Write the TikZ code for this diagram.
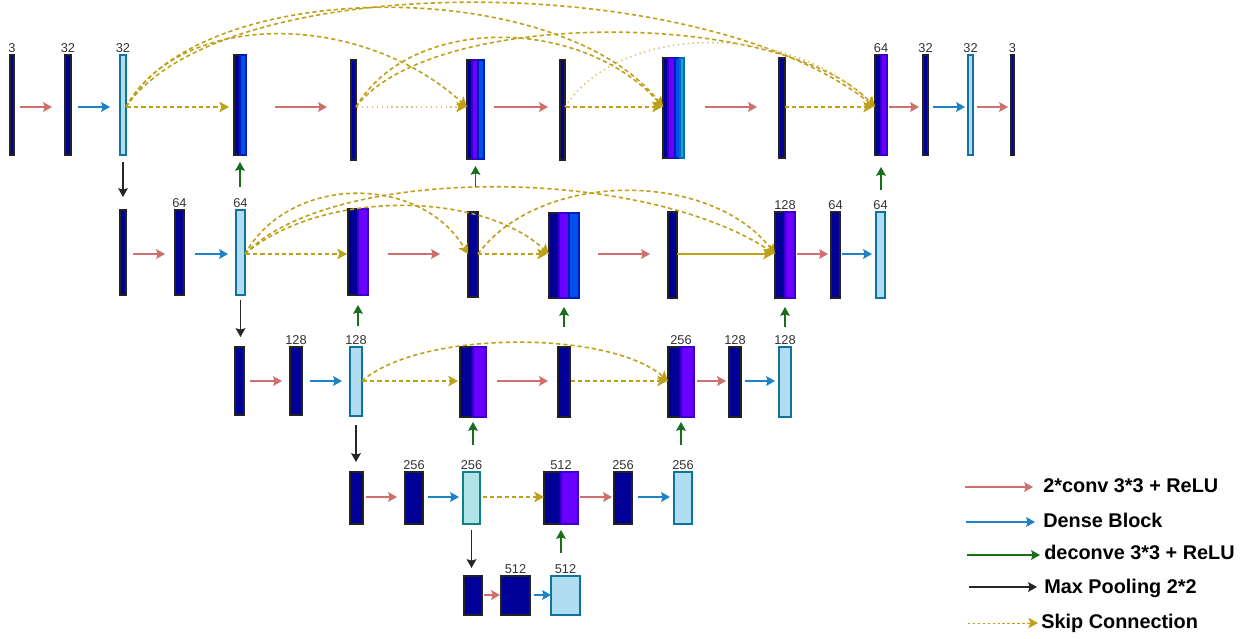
\documentclass[tikz,border=0pt]{standalone}
\usepackage{fontspec}
\setmainfont{Liberation Sans}
\usetikzlibrary{arrows.meta,calc}

\definecolor{navyfill}{HTML}{000099}
\definecolor{navyline}{HTML}{222222}
\definecolor{violetfill}{HTML}{6A00FF}
\definecolor{violetline}{HTML}{3700CC}
\definecolor{bluefill}{HTML}{0050EF}
\definecolor{blueline}{HTML}{001DBC}
\definecolor{cyanfill}{HTML}{1BA1E2}
\definecolor{cyanline}{HTML}{006EAF}
\definecolor{skyfill}{HTML}{B1DDF0}
\definecolor{skyline}{HTML}{10739E}
\definecolor{tealfill}{HTML}{B0E3E6}
\definecolor{tealline}{HTML}{0E8088}
\definecolor{convred}{RGB}{205,112,110}
\definecolor{denseblue}{RGB}{30,130,200}
\definecolor{deconvgreen}{RGB}{25,110,25}
\definecolor{skipol}{RGB}{190,160,25}
\definecolor{skippale}{RGB}{215,195,120}
\definecolor{numgray}{HTML}{333333}

% blocks: #1 name, #2 style, #3 x1, #4 y1, #5 x2, #6 y2
\newcommand\blockat[6]{\node[#2, rectangle, inner sep=0pt, outer sep=0pt, anchor=north west,
  minimum width={(#5-#3)*0.02cm}, minimum height={(#6-#4)*0.02cm}] (#1) at (#3,#4) {};}
% one coloured stripe of a concatenated block
\newcommand\stripe[5]{\draw[#1] (#2,#3) rectangle (#4,#5);}
% channel count above a block
\newcommand\numlabel[2]{\node[numtxt] (#1l) at ([yshift=1.1pt]#1.north) {#2};}
% horizontal connector: style, from, to, row, start gap, end gap
\newcommand\harrow[6]{\draw[#1] ($(#2.east |- #4)+(#5,0)$) -- ($(#3.west |- #4)+(-#6,0)$);}
% max pooling: from, to, start gap, end gap
\newcommand\darrow[4]{\draw[pool] ($(#1.south)+(0,#3)$) -- ($(#1.south |- #2.north)+(0,-#4)$);}
% deconvolution: from, to, start gap, end gap
\newcommand\uarrow[4]{\draw[deconv] ($(#2.south |- #1.north)+(0,-#3)$) -- ($(#2.south)+(0,#4)$);}

\begin{document}
\begin{tikzpicture}[x=0.02cm, y=-0.02cm,
  ghost/.style={draw=none},
  navyblk/.style={draw=navyline, fill=navyfill, line width=0.6pt},
  violetblk/.style={draw=violetline, fill=violetfill, line width=0.6pt},
  blueblk/.style={draw=blueline, fill=bluefill, line width=0.6pt},
  cyanblk/.style={draw=cyanline, fill=cyanfill, line width=0.6pt},
  skyblk/.style={draw=skyline, fill=skyfill, line width=0.6pt},
  tealblk/.style={draw=tealline, fill=tealfill, line width=0.6pt},
  numtxt/.style={anchor=south, inner sep=0pt, font=\fontsize{7.3pt}{8pt}\selectfont, text=numgray},
  legtxt/.style={anchor=base west, inner sep=0pt, font=\fontsize{11.3pt}{13pt}\selectfont\bfseries, text=black},
  tip/.style={-{Stealth[length=5pt,width=5.5pt,inset=0.8pt]}},
  conv/.style={draw=convred, line width=0.9pt, tip},
  dense/.style={draw=denseblue, line width=0.9pt, tip},
  deconv/.style={draw=deconvgreen, line width=0.8pt, tip},
  pool/.style={draw=black!85, line width=0.8pt, tip},
  skiptip/.style={-{Stealth[length=5.5pt,width=6pt,inset=1.2pt,color=skipol]}},
  skip/.style={draw=skipol, line width=0.9pt, dash pattern=on 2.4pt off 1.7pt, skiptip},
  skipdot/.style={draw=skippale, line width=0.9pt, dash pattern=on 0.8pt off 2pt, skiptip},
  skipsolid/.style={draw=skipol, line width=0.9pt, skiptip},
  legskip/.style={draw=skipol, line width=0.5pt, dash pattern=on 1.4pt off 1.4pt, skiptip}]

\useasboundingbox (0,0) rectangle (1255,639);
\fill[white] (0,0) rectangle (1255,639);

\coordinate (r1) at (0,107);
\coordinate (r2) at (0,254);
\coordinate (r3) at (0,381);
\coordinate (r4) at (0,497);
\coordinate (r5) at (0,595);

% ---------------- level 1 ----------------
\blockat{A1}{navyblk}{10}{55}{14}{155}
\blockat{A2}{navyblk}{65}{55}{71}{155}
\blockat{A3}{skyblk}{120}{55}{126}{155}
\blockat{A4}{ghost}{234}{55}{246}{155}
\stripe{navyblk}{234}{55}{240}{155}
\stripe{blueblk}{240}{55}{246}{155}
\blockat{A5}{navyblk}{351}{60}{356}{160}
\blockat{A6}{ghost}{467}{60}{484}{159}
\stripe{navyblk}{467}{60}{472}{159}
\stripe{violetblk}{472}{60}{478}{159}
\stripe{blueblk}{478}{60}{484}{159}
\blockat{A7}{navyblk}{560}{60}{565}{160}
\blockat{A8}{ghost}{663}{58}{684}{158}
\stripe{navyblk}{663}{58}{668}{158}
\stripe{violetblk}{668}{58}{675}{158}
\stripe{blueblk}{675}{58}{680}{158}
\stripe{cyanblk}{680}{58}{684}{158}
\blockat{A9}{navyblk}{779}{58}{785}{158}
\blockat{A10}{ghost}{875}{55}{887}{155}
\stripe{navyblk}{875}{55}{881}{155}
\stripe{violetblk}{881}{55}{887}{155}
\blockat{A11}{navyblk}{923}{55}{928}{155}
\blockat{A12}{skyblk}{968}{55}{973}{155}
\blockat{A13}{navyblk}{1011}{55}{1014}{155}

\numlabel{A1}{3}
\numlabel{A2}{32}
\numlabel{A3}{32}
\numlabel{A10}{64}
\numlabel{A11}{32}
\numlabel{A12}{32}
\numlabel{A13}{3}

% ---------------- level 2 ----------------
\blockat{B1}{navyblk}{120}{210}{126}{295}
\blockat{B2}{navyblk}{175}{210}{184}{295}
\blockat{B3}{skyblk}{236}{210}{245}{295}
\blockat{B4}{ghost}{348}{209}{368}{295}
\stripe{navyblk}{348}{209}{358}{295}
\stripe{violetblk}{358}{209}{368}{295}
\blockat{B5}{navyblk}{468}{212}{478}{297}
\blockat{B6}{ghost}{549}{213}{579}{298}
\stripe{navyblk}{549}{213}{559}{298}
\stripe{violetblk}{559}{213}{569}{298}
\stripe{blueblk}{569}{213}{579}{298}
\blockat{B7}{navyblk}{668}{212}{677}{298}
\blockat{B8}{ghost}{775}{212}{795}{298}
\stripe{navyblk}{775}{212}{785}{298}
\stripe{violetblk}{785}{212}{795}{298}
\blockat{B9}{navyblk}{831}{212}{840}{298}
\blockat{B10}{skyblk}{876}{212}{885}{298}

\numlabel{B2}{64}
\numlabel{B3}{64}
\numlabel{B8}{128}
\numlabel{B9}{64}
\numlabel{B10}{64}

% ---------------- level 3 ----------------
\blockat{C1}{navyblk}{235}{347}{244}{415}
\blockat{C2}{navyblk}{290}{347}{302}{415}
\blockat{C3}{skyblk}{350}{347}{362}{416}
\blockat{C4}{ghost}{460}{347}{486}{417}
\stripe{navyblk}{460}{347}{473}{417}
\stripe{violetblk}{473}{347}{486}{417}
\blockat{C5}{navyblk}{558}{347}{570}{417}
\blockat{C6}{ghost}{668}{347}{694}{417}
\stripe{navyblk}{668}{347}{681}{417}
\stripe{violetblk}{681}{347}{694}{417}
\blockat{C7}{navyblk}{729}{347}{741}{417}
\blockat{C8}{skyblk}{779}{347}{791}{417}

\numlabel{C2}{128}
\numlabel{C3}{128}
\numlabel{C6}{256}
\numlabel{C7}{128}
\numlabel{C8}{128}

% ---------------- level 4 ----------------
\blockat{D1}{navyblk}{350}{472}{363}{524}
\blockat{D2}{navyblk}{405}{472}{423}{524}
\blockat{D3}{tealblk}{463}{472}{480}{524}
\blockat{D4}{ghost}{544}{472}{578}{524}
\stripe{navyblk}{544}{472}{561}{524}
\stripe{violetblk}{561}{472}{578}{524}
\blockat{D5}{navyblk}{614}{472}{632}{524}
\blockat{D6}{skyblk}{674}{472}{692}{524}

\numlabel{D2}{256}
\numlabel{D3}{256}
\numlabel{D4}{512}
\numlabel{D5}{256}
\numlabel{D6}{256}

% ---------------- level 5 ----------------
\blockat{E1}{navyblk}{464}{576}{482}{615}
\blockat{E2}{navyblk}{501}{576}{530}{615}
\blockat{E3}{skyblk}{551}{576}{580}{615}

\numlabel{E2}{512}
\numlabel{E3}{512}

% ---------------- horizontal connectors ----------------
\harrow{conv}{A1}{A2}{r1}{6}{13}
\harrow{dense}{A2}{A3}{r1}{7}{10}
\harrow{skip}{A3}{A4}{r1}{1}{5}
\harrow{conv}{A4}{A5}{r1}{29}{24}
\harrow{skipdot}{A5}{A6}{r1}{1}{1}
\harrow{conv}{A6}{A7}{r1}{10}{12}
\harrow{skip}{A7}{A8}{r1}{1}{1}
\harrow{conv}{A8}{A9}{r1}{21}{22}
\harrow{skip}{A9}{A10}{r1}{0}{2}
\harrow{conv}{A10}{A11}{r1}{2}{4}
\harrow{dense}{A11}{A12}{r1}{5}{3}
\harrow{conv}{A12}{A13}{r1}{4}{3}

\harrow{conv}{B1}{B2}{r2}{7}{10}
\harrow{dense}{B2}{B3}{r2}{11}{8}
\harrow{skip}{B3}{B4}{r2}{1}{1}
\harrow{conv}{B4}{B5}{r2}{20}{28}
\harrow{skip}{B5}{B6}{r2}{0}{2}
\harrow{conv}{B6}{B7}{r2}{19}{18}
\harrow{skipsolid}{B7}{B8}{r2}{0}{2}
\harrow{conv}{B8}{B9}{r2}{2}{3}
\harrow{dense}{B9}{B10}{r2}{2}{4}

\harrow{conv}{C1}{C2}{r3}{6}{8}
\harrow{dense}{C2}{C3}{r3}{8}{8}
\harrow{skip}{C3}{C4}{r3}{1}{2}
\harrow{conv}{C4}{C5}{r3}{11}{10}
\harrow{skip}{C5}{C6}{r3}{1}{1}
\harrow{conv}{C6}{C7}{r3}{3}{3}
\harrow{dense}{C7}{C8}{r3}{4}{4}

\harrow{conv}{D1}{D2}{r4}{3}{8}
\harrow{dense}{D2}{D3}{r4}{5}{4}
\harrow{skip}{D3}{D4}{r4}{3}{0}
\harrow{conv}{D4}{D5}{r4}{2}{2}
\harrow{dense}{D5}{D6}{r4}{6}{4}

\harrow{conv}{E1}{E2}{r5}{2}{1}
\harrow{dense}{E2}{E3}{r5}{4}{0}

% ---------------- long skip connections ----------------
\draw[skip] (A3.east |- r1) .. controls +(54,-97) and +(-107,-97) .. (A6.west |- r1);
\draw[skip] (A3.east |- r1) .. controls +(74,-132) and +(-103,-132) .. (A8.west |- r1);
\draw[skip] (A3.east |- r1) .. controls +(94,-139) and +(-175,-139) .. (A10.west |- r1);
\draw[skip] (A5.east |- r1) .. controls +(54,-92) and +(-83,-92) .. (A8.west |- r1);
\draw[skip] (A5.east |- r1) .. controls +(74,-99) and +(-95,-99) .. (A10.west |- r1);
\draw[skipdot] (A7.east |- r1) .. controls +(55,-85) and +(-85,-85) .. (A10.west |- r1);

\draw[skip] (B3.east |- r2) .. controls +(45,-80) and +(-48,-80) .. (B5.west |- r2);
\draw[skip] (B3.east |- r2) .. controls +(75,-64) and +(-69,-64) .. (B6.west |- r2);
\draw[skip] (B3.east |- r2) .. controls +(85,-89) and +(-135,-89) .. (B8.west |- r2);
\draw[skip] (B5.east |- r2) .. controls +(62,-84) and +(-65,-84) .. (B8.west |- r2);

\draw[skip] (C3.east |- r3) .. controls +(58,-51) and +(-58,-51) .. (C6.west |- r3);

% ---------------- pooling (down) ----------------
\darrow{A3}{B1}{7}{13}
\darrow{B3}{C1}{5}{10}
\darrow{C3}{D1}{9}{10}
\darrow{D3}{E1}{6}{8}

% ---------------- deconvolution (up) ----------------
\uarrow{B3}{A4}{23}{7}
\uarrow{B5}{A6}{25}{7}
\uarrow{B10}{A10}{22}{12}
\uarrow{C3}{B4}{21}{10}
\uarrow{C5}{B6}{20}{9}
\uarrow{C8}{B8}{20}{9}
\uarrow{D3}{C4}{27}{5}
\uarrow{D6}{C6}{27}{5}
\uarrow{E3}{D4}{23}{6}

% ---------------- legend ----------------
\node[legtxt] (lgA) at (1043,492) {2*conv 3*3 + ReLU};
\node[legtxt] (lgB) at (1043,527) {Dense Block};
\node[legtxt] (lgC) at (1044,559) {deconve 3*3 + ReLU};
\node[legtxt] (lgD) at (1044,593) {Max Pooling 2*2};
\node[legtxt] (lgE) at (1041,628) {Skip Connection};
\coordinate (lgAs) at (965,487);
\coordinate (lgBs) at (966,522);
\coordinate (lgCs) at (967,555);
\coordinate (lgDs) at (969,587);
\coordinate (lgEs) at (968,623);
\draw[conv] (lgAs) -- ($(lgA.west |- lgAs)+(-10,0)$);
\draw[dense] (lgBs) -- ($(lgB.west |- lgBs)+(-8,0)$);
\draw[deconv] (lgCs) -- ($(lgC.west |- lgCs)+(-4,0)$);
\draw[pool] (lgDs) -- ($(lgD.west |- lgDs)+(-7,0)$);
\draw[legskip] (lgEs) -- ($(lgE.west |- lgEs)+(-3,0)$);

\end{tikzpicture}
\end{document}
